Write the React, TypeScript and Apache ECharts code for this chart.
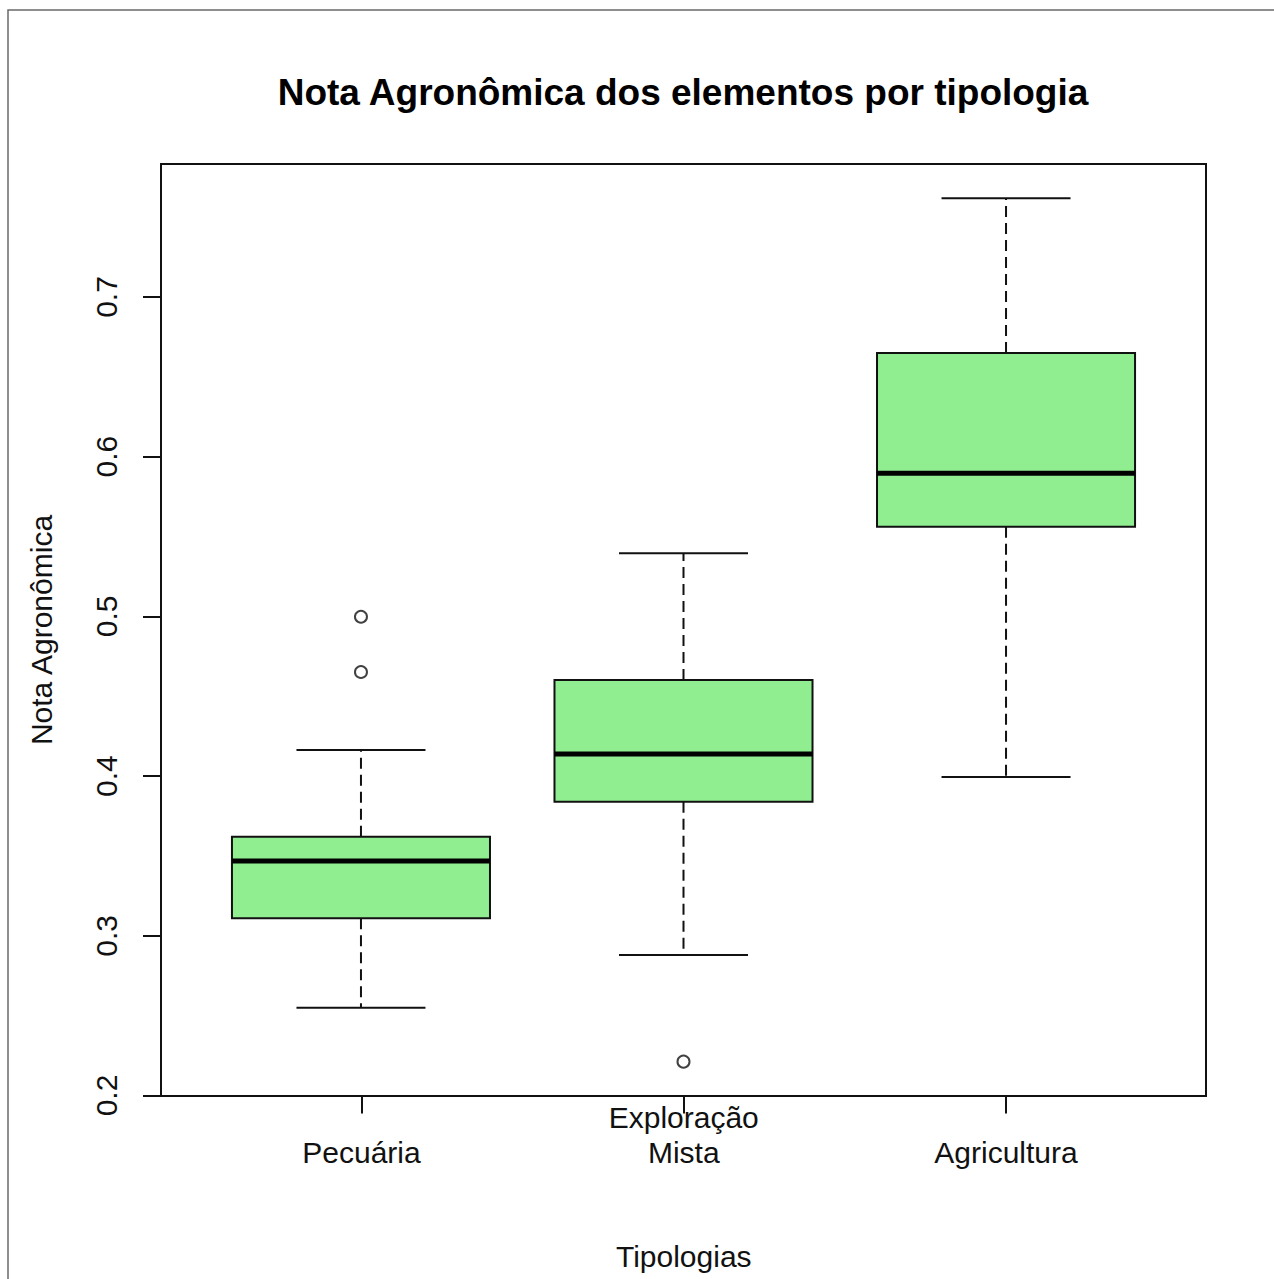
import React, { useEffect, useRef } from "react";
import * as echarts from "echarts";

// Box-plot summaries of the agronomic score per farm typology
const categories = ["Pecuária", "Exploração\nMista", "Agricultura"];
const lowerWhisker = [0.255, 0.288, 0.3994];
const firstQuartile = [0.311, 0.384, 0.5562];
const medians = [0.3468, 0.4138, 0.5896];
const thirdQuartile = [0.3621, 0.4602, 0.6649];
const upperWhisker = [0.4163, 0.5395, 0.7618];
// Outliers as [group position, value]
const outlierGroups = [1, 1, 2];
const outlierValues = [0.4998, 0.4652, 0.2212];

const yTicks = { min: 0.2, max: 0.7, interval: 0.1 };

const FONT = "'Liberation Sans', Arial, Helvetica, sans-serif";
const INK = "#111";
const BOX_FILL = "#90EE90";
const BOX_HALF = 0.4; // half of the box width, in axis units
const CAP_HALF = 0.2; // half of the whisker cap width

export default function App() {
  const ref = useRef<HTMLDivElement>(null);

  useEffect(() => {
    if (!ref.current) return;
    const chart = echarts.init(ref.current, null, { renderer: "svg" });

    const boxData = categories.map((_, i) => [
      i + 1,
      lowerWhisker[i],
      firstQuartile[i],
      medians[i],
      thirdQuartile[i],
      upperWhisker[i],
    ]);
    const outlierData = outlierValues.map((v, i) => [outlierGroups[i], v]);

    const renderBox = (params: any, api: any) => {
      const x = api.value(0);
      const lo = api.value(1);
      const q1 = api.value(2);
      const med = api.value(3);
      const q3 = api.value(4);
      const hi = api.value(5);
      const c = (xv: number, yv: number) => api.coord([xv, yv]);
      const dashed = { stroke: INK, lineWidth: 2, lineDash: [11, 6], fill: null };
      const solid = { stroke: INK, lineWidth: 2, fill: null };
      const pLo = c(x, lo);
      const pQ1 = c(x, q1);
      const pQ3 = c(x, q3);
      const pHi = c(x, hi);
      const boxTL = c(x - BOX_HALF, q3);
      const boxBR = c(x + BOX_HALF, q1);
      const medL = c(x - BOX_HALF, med);
      const medR = c(x + BOX_HALF, med);
      const capLoL = c(x - CAP_HALF, lo);
      const capLoR = c(x + CAP_HALF, lo);
      const capHiL = c(x - CAP_HALF, hi);
      const capHiR = c(x + CAP_HALF, hi);
      return {
        type: "group",
        children: [
          { type: "line", shape: { x1: pQ3[0], y1: pQ3[1], x2: pHi[0], y2: pHi[1] }, style: dashed },
          { type: "line", shape: { x1: pQ1[0], y1: pQ1[1], x2: pLo[0], y2: pLo[1] }, style: dashed },
          { type: "line", shape: { x1: capHiL[0], y1: capHiL[1], x2: capHiR[0], y2: capHiR[1] }, style: solid },
          { type: "line", shape: { x1: capLoL[0], y1: capLoL[1], x2: capLoR[0], y2: capLoR[1] }, style: solid },
          {
            type: "rect",
            shape: { x: boxTL[0], y: boxTL[1], width: boxBR[0] - boxTL[0], height: boxBR[1] - boxTL[1] },
            style: { fill: BOX_FILL, stroke: INK, lineWidth: 2 },
          },
          { type: "line", shape: { x1: medL[0], y1: medL[1], x2: medR[0], y2: medR[1] }, style: { stroke: "#000", lineWidth: 5 } },
        ],
      };
    };

    const option: any = {
      animation: false,
      backgroundColor: "#fff",
      textStyle: { fontFamily: FONT },
      title: {
        text: "Nota Agronômica dos elementos por tipologia",
        left: 678,
        top: 69,
        textAlign: "center",
        textStyle: { fontFamily: FONT, fontSize: 37, fontWeight: "bold", color: "#000" },
      },
      graphic: [
        {
          type: "polyline",
          shape: { points: [[8, 1279], [8, 10], [1274, 10]] },
          style: { stroke: "#6a6a6a", lineWidth: 1.5, fill: null },
          silent: true,
        },
        {
          type: "rect",
          shape: { x: 161, y: 164, width: 1045, height: 932 },
          style: { stroke: INK, lineWidth: 2, fill: null },
          silent: true,
          z: 100,
        },
        {
          // y-axis title, centred on the plot frame
          type: "text",
          x: 41,
          y: 630,
          rotation: Math.PI / 2,
          silent: true,
          style: {
            text: "Nota Agronômica",
            font: `30px ${FONT}`,
            fill: "#111",
            align: "center",
            verticalAlign: "middle",
          },
        },
      ],
      grid: [
        { left: 161, right: 68, top: 297, bottom: 183.5 },
        { left: 361.5, right: 268, top: 297, bottom: 183.5 },
      ],
      xAxis: [
        { gridIndex: 0, type: "value", min: 0.38, max: 3.62, show: false },
        {
          gridIndex: 1,
          type: "value",
          min: 1,
          max: 3,
          interval: 1,
          splitLine: { show: false },
          axisLine: { show: true, lineStyle: { color: INK, width: 2 } },
          axisTick: { show: true, inside: false, length: 18, lineStyle: { color: INK, width: 2 } },
          axisLabel: {
            show: true,
            margin: 74,
            verticalAlign: "bottom",
            fontSize: 30,
            lineHeight: 35,
            color: "#111",
            fontFamily: FONT,
            formatter: (v: number) => categories[Math.round(v) - 1] ?? "",
          },
          name: "Tipologias",
          nameLocation: "middle",
          nameGap: 146,
          nameTextStyle: { fontSize: 30, color: "#111", fontFamily: FONT, verticalAlign: "top" },
        },
      ],
      yAxis: [
        {
          gridIndex: 0,
          type: "value",
          min: yTicks.min,
          max: yTicks.max,
          interval: yTicks.interval,
          splitLine: { show: false },
          axisLine: { show: true, lineStyle: { color: INK, width: 2 } },
          axisTick: { show: true, inside: false, length: 18, lineStyle: { color: INK, width: 2 } },
          axisLabel: {
            rotate: 90,
            margin: 40,
            fontSize: 30,
            color: "#111",
            fontFamily: FONT,
            formatter: (v: number) => v.toFixed(1),
          },
        },
        { gridIndex: 1, type: "value", min: 0, max: 1, show: false },
      ],
      series: [
        {
          type: "custom",
          xAxisIndex: 0,
          yAxisIndex: 0,
          clip: false,
          renderItem: renderBox,
          encode: { x: 0, y: [1, 2, 3, 4, 5] },
          data: boxData,
          z: 2,
        },
        {
          type: "scatter",
          xAxisIndex: 0,
          yAxisIndex: 0,
          symbol: "circle",
          symbolSize: 12,
          itemStyle: { color: "rgba(255,255,255,0)", borderColor: INK, borderWidth: 2 },
          data: outlierData,
          z: 3,
        },
        { type: "scatter", xAxisIndex: 1, yAxisIndex: 1, data: [] },
      ],
    };

    chart.setOption(option);
    return () => chart.dispose();
  }, []);

  return (
    <div
      ref={ref}
      style={{ position: "fixed", left: 0, top: 0, width: 1274, height: 1279, background: "#fff" }}
    />
  );
}
